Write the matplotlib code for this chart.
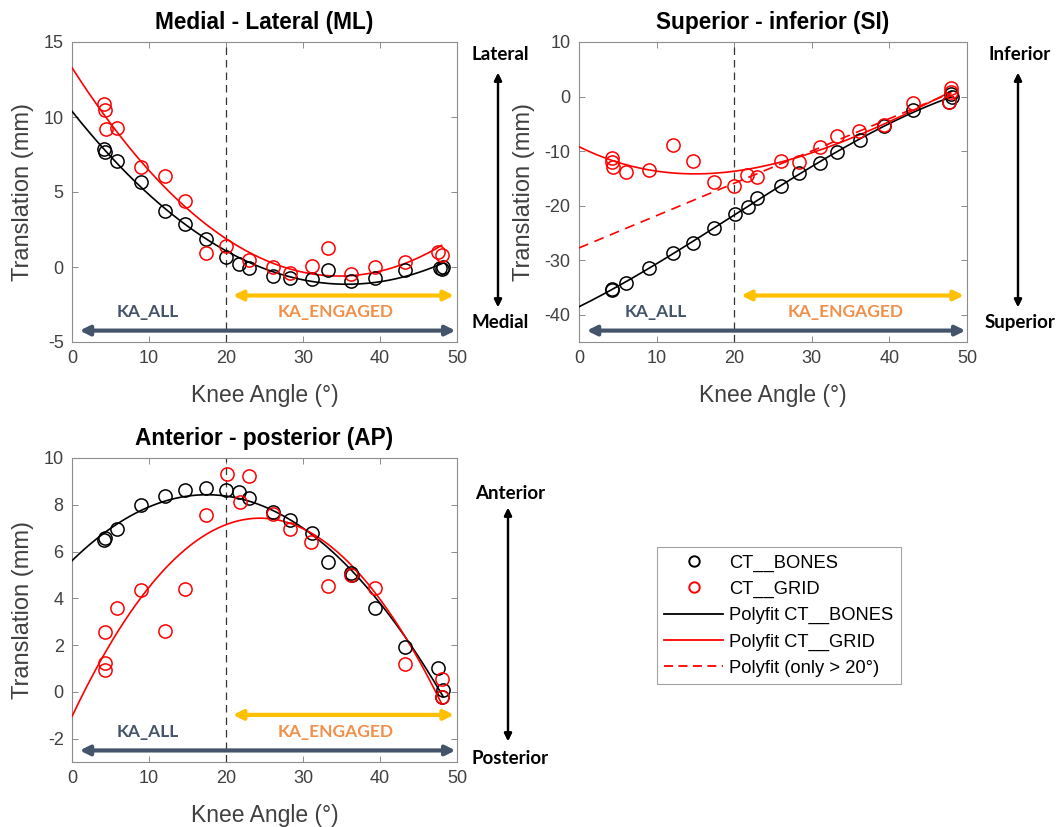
import matplotlib.pyplot as plt
import numpy as np
from matplotlib.lines import Line2D

plt.rcParams['font.family'] = ['Liberation Sans', 'DejaVu Sans']
plt.rcParams['axes.unicode_minus'] = False

# --- data (knee angle in deg, translation in mm) ---
ml_bones_x = [4.2, 4.3, 5.9, 9.0, 12.1, 14.7, 17.4, 20.0, 21.7, 23.0, 26.1, 28.3, 31.2, 33.3, 36.2, 39.3, 43.2, 47.8, 48.0, 48.2]
ml_bones_y = [7.9, 7.7, 7.07, 5.69, 3.75, 2.87, 1.84, 0.65, 0.2, -0.07, -0.6, -0.76, -0.82, -0.2, -0.91, -0.76, -0.2, -0.05, -0.1, 0.0]
ml_grid_x = [4.2, 4.3, 4.4, 5.9, 9.0, 12.1, 14.7, 17.4, 20.0, 23.0, 26.1, 28.3, 31.2, 33.3, 36.2, 39.3, 43.2, 47.5, 48.0]
ml_grid_y = [10.87, 10.47, 9.18, 9.24, 6.69, 6.09, 4.4, 0.95, 1.4, 0.47, -0.02, -0.42, 0.07, 1.25, -0.49, -0.02, 0.31, 1.02, 0.8]

si_bones_x = [4.2, 4.3, 6.0, 9.0, 12.1, 14.75, 17.4, 20.1, 21.8, 23.0, 26.0, 28.4, 31.1, 33.25, 36.2, 39.3, 43.1, 47.7, 48.0, 48.1]
si_bones_y = [-35.2, -35.5, -34.1, -31.4, -28.7, -26.8, -24.1, -21.6, -20.2, -18.6, -16.4, -14.1, -12.1, -10.1, -8.0, -5.4, -2.5, -1.0, 0.5, 0.0]
si_grid_x = [4.2, 4.3, 4.4, 6.0, 9.0, 12.1, 14.75, 17.4, 20.0, 21.7, 23.0, 26.0, 28.4, 31.1, 33.25, 36.1, 39.3, 43.1, 47.7, 48.0, 48.0]
si_grid_y = [-11.3, -12.0, -12.9, -13.8, -13.4, -8.9, -11.8, -15.6, -16.4, -14.4, -14.7, -11.8, -12.0, -9.3, -7.25, -6.3, -5.2, -1.2, -1.0, 0.9, 1.5]

ap_bones_x = [4.2, 4.3, 5.9, 9.0, 12.1, 14.7, 17.4, 20.0, 21.7, 23.0, 26.1, 28.3, 31.2, 33.3, 36.2, 36.3, 39.3, 43.2, 47.5, 48.0, 48.2]
ap_bones_y = [6.5, 6.57, 6.96, 8.0, 8.36, 8.64, 8.71, 8.64, 8.54, 8.31, 7.71, 7.36, 6.79, 5.54, 5.07, 5.0, 3.57, 1.9, 1.0, -0.21, 0.1]
ap_grid_x = [4.3, 4.3, 4.3, 5.9, 9.0, 12.1, 14.7, 17.4, 20.1, 21.8, 23.0, 26.1, 28.3, 31.1, 33.3, 36.2, 39.3, 43.2, 48.0, 48.0]
ap_grid_y = [2.57, 1.24, 0.93, 3.57, 4.36, 2.61, 4.39, 7.57, 9.31, 8.1, 9.21, 7.61, 6.96, 6.4, 4.53, 5.0, 4.43, 1.21, 0.57, -0.21]

titles = ['Medial - Lateral (ML)', 'Superior - inferior (SI)', 'Anterior - posterior (AP)']
ylims = [(-5, 15), (-45, 10), (-3, 10)]
yticks = [np.arange(-5, 16, 5), np.arange(-40, 11, 10), np.arange(-2, 11, 2)]
fit_deg = [2, 3, 2]
side_labels = [('Lateral', 'Medial'), ('Inferior', 'Superior'), ('Anterior', 'Posterior')]

FIG_W, FIG_H = 1063, 827
fig = plt.figure(figsize=(FIG_W / 100, FIG_H / 100), dpi=100)


def px_rect(left, top, right, bottom):
    return [left / FIG_W, 1 - bottom / FIG_H, (right - left) / FIG_W, (bottom - top) / FIG_H]


def fx(px):
    return px / FIG_W


def fy(py):
    return 1 - py / FIG_H


axes = [fig.add_axes(px_rect(72, 42, 457, 342)),
        fig.add_axes(px_rect(579, 42, 967, 342)),
        fig.add_axes(px_rect(72, 458, 457, 762))]

data = [(ml_bones_x, ml_bones_y, ml_grid_x, ml_grid_y),
        (si_bones_x, si_bones_y, si_grid_x, si_grid_y),
        (ap_bones_x, ap_bones_y, ap_grid_x, ap_grid_y)]

tick_col = '#404040'
for i, ax in enumerate(axes):
    bx, by, gx, gy = data[i]
    # polynomial fits
    xs = np.linspace(0, max(bx), 200)
    pb = np.polyfit(bx, by, fit_deg[i])
    ax.plot(xs, np.polyval(pb, xs), color='black', lw=1.2, zorder=3)
    xs = np.linspace(0, max(gx), 200)
    pg = np.polyfit(gx, gy, fit_deg[i])
    ax.plot(xs, np.polyval(pg, xs), color='red', lw=1.2, zorder=3)
    if i == 1:
        # fit only on the engaged range (> 20 deg), extended to 0
        gx_a = np.array(gx)
        gy_a = np.array(gy)
        m = gx_a > 20
        pl = np.polyfit(gx_a[m], gy_a[m], 1)
        ax.plot(xs, np.polyval(pl, xs), color='red', lw=1.2, ls=(0, (6, 4)), zorder=3)

    ax.plot(bx, by, 'o', mfc='none', mec='black', ms=9.5, mew=1.1, zorder=4)
    ax.plot(gx, gy, 'o', mfc='none', mec='red', ms=9.5, mew=1.1, zorder=4)

    ax.axvline(20, color='#333333', lw=0.9, ls=(0, (6, 4)), zorder=2)

    ax.set_xlim(0, 50)
    ax.set_ylim(*ylims[i])
    ax.set_xticks(np.arange(0, 51, 10))
    ax.set_yticks(yticks[i])
    ax.tick_params(direction='in', top=True, right=True, length=4, width=0.7,
                   colors='#8c8c8c', labelcolor=tick_col, labelsize=13, pad=6)
    for s in ax.spines.values():
        s.set_color('#8c8c8c')
        s.set_linewidth(0.8)
    ax.set_title(titles[i], fontsize=16.3, fontweight='bold', pad=9)
    ax.set_xlabel('Knee Angle (°)', fontsize=16.5, color=tick_col, labelpad=12)
    ax.set_ylabel('Translation (mm)', fontsize=17, color=tick_col, labelpad=7)

    # KA range arrows (x in data, y in axes fraction)
    tr = ('data', 'axes fraction')
    ax.annotate('', xy=(1.0, 0.038), xytext=(49.8, 0.038), xycoords=tr, textcoords=tr,
                arrowprops=dict(arrowstyle='<|-|>', color='#44546A', lw=3, mutation_scale=14,
                                shrinkA=0, shrinkB=0), annotation_clip=False, zorder=5)
    ax.annotate('', xy=(20.9, 0.155), xytext=(49.6, 0.155), xycoords=tr, textcoords=tr,
                arrowprops=dict(arrowstyle='<|-|>', color='#FFC000', lw=3, mutation_scale=14,
                                shrinkA=0, shrinkB=0), annotation_clip=False, zorder=5)
    ax.text(9.9, 0.10, 'KA_ALL', transform=ax.get_xaxis_transform(), ha='center', va='center',
            family='Lato', fontweight='bold', fontsize=12.5, color='#44546A')
    ax.text(34.3, 0.10, 'KA_ENGAGED', transform=ax.get_xaxis_transform(), ha='center', va='center',
            family='Lato', fontweight='bold', fontsize=12.5, color='#F0904A')

# side direction arrows and labels
side = [(500, 55, 323, 73, 307), (1020, 55, 323, 73, 307), (510, 493, 758, 508, 741)]
for (x, ty, by_, a0, a1), (top_lbl, bot_lbl) in zip(side, side_labels):
    fig.text(fx(x), fy(ty), top_lbl, ha='center', va='center', family='Lato',
             fontweight='bold', fontsize=13.5)
    fig.text(fx(x), fy(by_), bot_lbl, ha='center', va='center', family='Lato',
             fontweight='bold', fontsize=13.5)
    fig.add_artist(plt.annotate('', xy=(fx(x - 2), fy(a0)), xytext=(fx(x - 2), fy(a1)),
                                xycoords='figure fraction', textcoords='figure fraction',
                                arrowprops=dict(arrowstyle='<|-|>', color='black', lw=1.6,
                                                mutation_scale=11, shrinkA=0, shrinkB=0)))

handles = [Line2D([], [], ls='none', marker='o', mfc='none', mec='black', ms=7.5, mew=1.4),
           Line2D([], [], ls='none', marker='o', mfc='none', mec='red', ms=7.5, mew=1.4),
           Line2D([], [], color='black', lw=1.3),
           Line2D([], [], color='red', lw=1.3),
           Line2D([], [], color='red', lw=1.3, ls=(0, (5, 3)))]
labels = ['CT__BONES', 'CT__GRID', 'Polyfit CT__BONES', 'Polyfit CT__GRID', 'Polyfit (only > 20°)']
leg = fig.legend(handles, labels, loc='upper left', bbox_to_anchor=(fx(657), fy(547)),
                 fontsize=13.2, frameon=True, fancybox=False, edgecolor='#8c8c8c',
                 handlelength=3.2, handletextpad=0.35, borderpad=0.4, labelspacing=0.5,
                 borderaxespad=0)
leg.get_frame().set_linewidth(0.8)

fig.savefig('out.png', dpi=100)
